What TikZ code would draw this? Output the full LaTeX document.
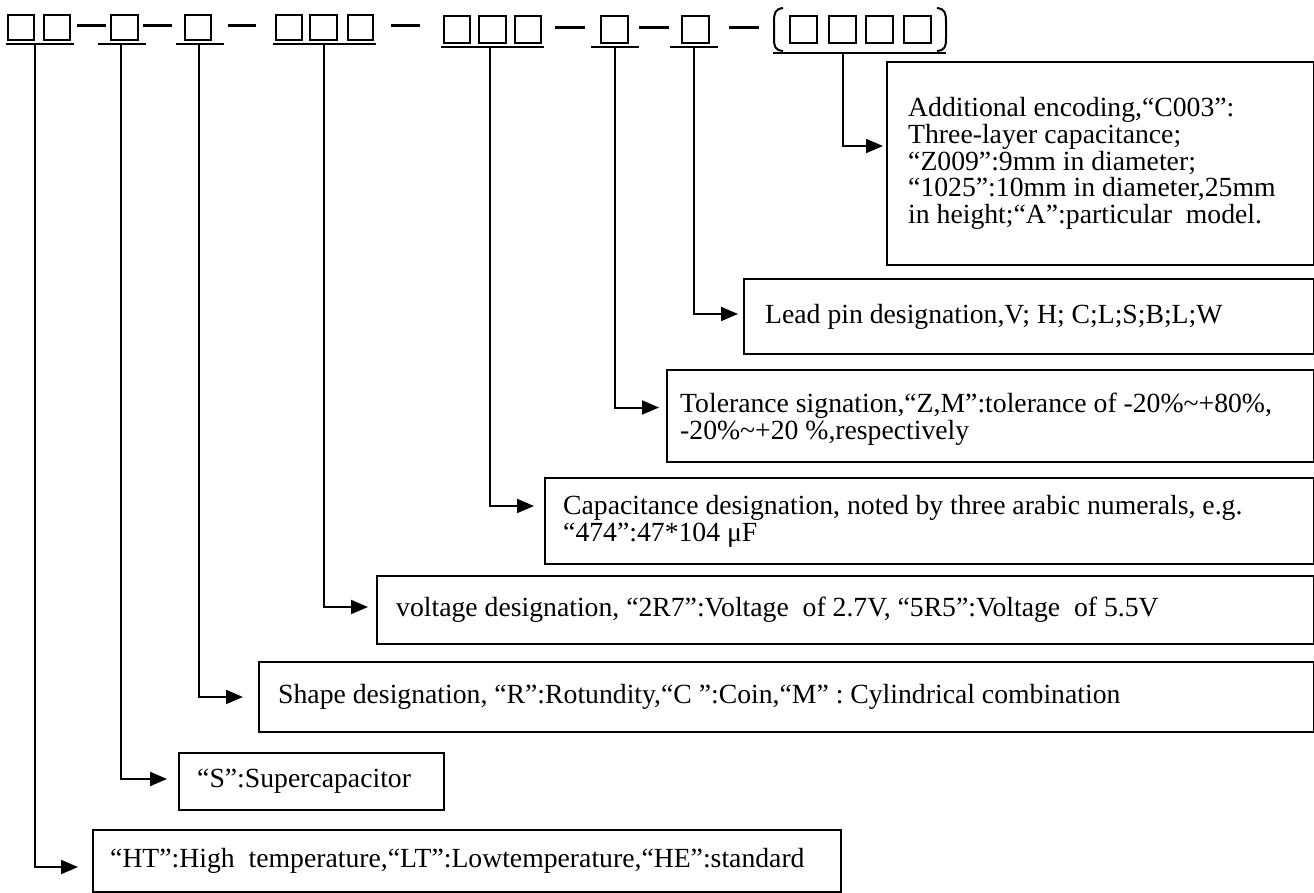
\documentclass[tikz,border=0pt]{standalone}
\usepackage{fontspec}
\setmainfont{Liberation Serif}
\usetikzlibrary{arrows.meta}
\begin{document}
\begin{tikzpicture}[x=1pt,y=-1pt,
  sq/.style={draw,line width=2pt},
  dsh/.style={line width=3pt},
  uline/.style={line width=2pt},
  box/.style={draw,line width=2pt,rectangle,inner sep=0pt,anchor=north west},
  txt/.style={anchor=west,align=left,inner sep=0pt,font=\fontsize{27.7pt}{26.7pt}\selectfont},
  conn/.style={line width=2pt,-{Triangle[length=17pt,width=14pt]}}]
\useasboundingbox (0,0) rectangle (1314,893);
% header squares
\foreach \a/\b in {8/34,44/70,111/138,185/211,276/302,310/337,348/373}
  \draw[sq] (\a,15) rectangle (\b,40);
\foreach \a/\b in {444/470,479/506,515/541,601/628,682/709,790/817,829/856,866/893,904/931}
  \draw[sq] (\a,16) rectangle (\b,43);
% dashes
\foreach \a/\b in {77/106,143/172,228/256,391/420}
  \draw[dsh] (\a,26) -- (\b,26);
\foreach \a/\b in {555/585,639/669,729/759}
  \draw[dsh] (\a,28) -- (\b,28);
% parentheses
\draw[line width=2pt] (783,8) .. controls (775,9) and (774,13) .. (774,22) -- (774,38) .. controls (774,47) and (775,50) .. (783,51);
\draw[line width=2pt] (937,8) .. controls (945,9) and (946,13) .. (946,22) -- (946,38) .. controls (946,47) and (945,50) .. (937,51);
% underlines
\draw[uline] (6,44) -- (74,44);
\draw[uline] (98,44) -- (146,44);
\draw[uline] (176,44) -- (224,44);
\draw[uline] (273,44) -- (376,44);
\draw[uline] (441,47) -- (544,47);
\draw[uline] (591,47) -- (639,47);
\draw[uline] (670,47) -- (718,47);
\draw[uline] (773,53) -- (946,53);
\coordinate (g8) at (35,44);
\coordinate (g7) at (121,44);
\coordinate (g6) at (199,44);
\coordinate (g5) at (324,44);
\coordinate (g4) at (490,47);
\coordinate (g3) at (615,47);
\coordinate (g2) at (694,47);
\coordinate (g1) at (843,53);
% boxes
\node[box,minimum width=427pt,minimum height=203pt] (b1) at (886,61) {};
\node[box,minimum width=570pt,minimum height=75pt] (b2) at (743,278) {};
\node[box,minimum width=647pt,minimum height=92pt] (b3) at (666,369) {};
\node[box,minimum width=769pt,minimum height=86pt] (b4) at (544,477) {};
\node[box,minimum width=937pt,minimum height=68pt] (b5) at (376,575) {};
\node[box,minimum width=1055pt,minimum height=70pt] (b6) at (258,661) {};
\node[box,minimum width=265pt,minimum height=57pt] (b7) at (178,752) {};
\node[box,minimum width=748pt,minimum height=62pt] (b8) at (92,829) {};
% texts
\node[txt] (t1) at ([xshift=22pt]b1.west) {Additional encoding,“C003”:\\Three-layer capacitance;\\“Z009”:9mm in diameter;\\“1025”:10mm in diameter,25mm\\in height;“A”:particular\ \ model.};
\node[txt] (t2) at ([xshift=22pt]b2.west) {Lead pin designation,V; H; C;L;S;B;L;W};
\node[txt] (t3) at ([xshift=14pt,yshift=-3pt]b3.west) {Tolerance signation,“Z,M”:tolerance of -20\%\textasciitilde+80\%,\\-20\%\textasciitilde+20 \%,respectively};
\node[txt] (t4) at ([xshift=19pt]b4.west) {Capacitance designation, noted by three arabic numerals, e.g.\\“474”:47*104 μF};
\node[txt] (t5) at ([xshift=20pt]b5.west) {voltage designation, “2R7”:Voltage\ \ of 2.7V, “5R5”:Voltage\ \ of 5.5V};
\node[txt] (t6) at ([xshift=20pt]b6.west) {Shape designation, “R”:Rotundity,“C ”:Coin,“M” : Cylindrical combination};
\node[txt] (t7) at ([xshift=19pt]b7.west) {“S”:Supercapacitor};
\node[txt] (t8) at ([xshift=18pt]b8.west) {“HT”:High\ \ temperature,“LT”:Lowtemperature,“HE”:standard};
% connectors
\draw[conn,shorten >=3pt] (g1) |- ([yshift=17.5pt]b1.west);
\draw[conn,shorten >=5pt] (g2) |- ([yshift=2.5pt]b2.west);
\draw[conn,shorten >=7pt] (g3) |- ([yshift=8.5pt]b3.west);
\draw[conn,shorten >=10pt] (g4) |- ([yshift=15pt]b4.west);
\draw[conn,shorten >=8pt] (g5) |- ([yshift=3pt]b5.west);
\draw[conn,shorten >=15pt] (g6) |- (b6.west);
\draw[conn,shorten >=11pt] (g7) |- ([yshift=2.5pt]b7.west);
\draw[conn,shorten >=14pt] (g8) |- ([yshift=-6pt]b8.west);
\end{tikzpicture}
\end{document}
